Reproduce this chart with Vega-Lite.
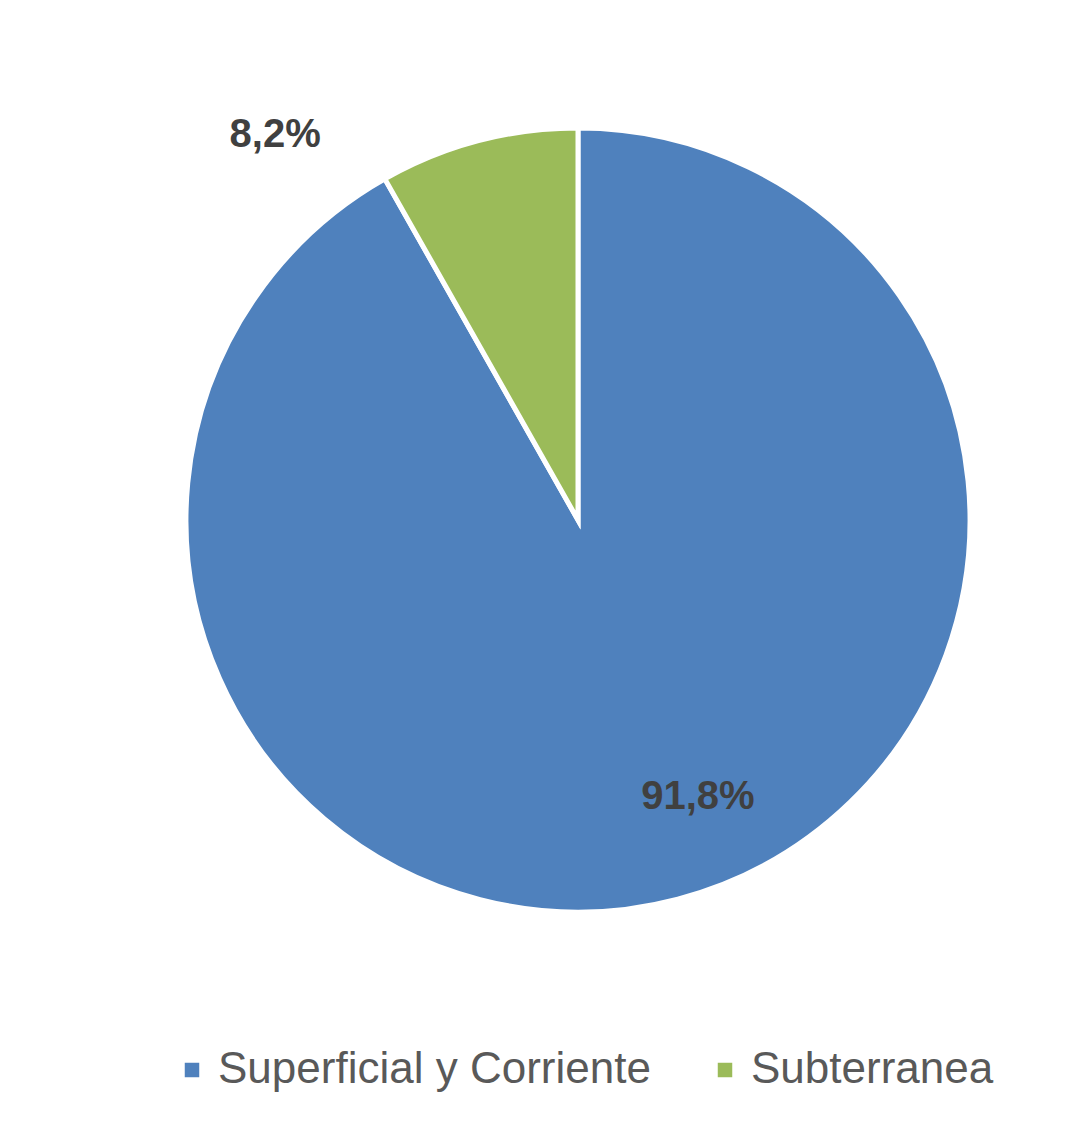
{
  "$schema": "https://vega.github.io/schema/vega-lite/v6.json",
  "autosize": "none",
  "width": 1066,
  "height": 1014,
  "padding": {"left": 45, "top": 13, "right": 0, "bottom": 102},
  "background": "white",
  "config": {"view": {"stroke": null}},
  "data": {
    "values": [
      {"tipo": "Superficial y Corriente", "pct": 91.8, "label": "91,8%", "orden": 1},
      {"tipo": "Subterranea", "pct": 8.2, "label": "8,2%", "orden": 2}
    ]
  },
  "encoding": {
    "theta": {"field": "pct", "type": "quantitative", "stack": true},
    "order": {"field": "orden", "type": "quantitative"}
  },
  "layer": [
    {
      "mark": {"type": "arc", "outerRadius": 392, "stroke": "white", "strokeWidth": 5},
      "encoding": {
        "color": {
          "field": "tipo",
          "type": "nominal",
          "sort": ["Superficial y Corriente", "Subterranea"],
          "scale": {"domain": ["Superficial y Corriente", "Subterranea"], "range": ["#4F81BD", "#9BBB59"]},
          "legend": {
            "title": null,
            "orient": "none",
            "legendX": 125,
            "legendY": 1035,
            "direction": "horizontal",
            "symbolType": "square",
            "symbolSize": 210,
            "symbolStrokeWidth": 0,
            "labelFont": "Liberation Sans",
            "labelFontSize": 44,
            "labelColor": "#595959",
            "labelLimit": 800,
            "columnPadding": 52
          }
        }
      }
    },
    {
      "mark": {"type": "text", "radius": 302, "dx": 43, "dy": -15, "font": "Liberation Sans", "fontSize": 40, "fontWeight": "bold", "fill": "#404040"},
      "encoding": {"text": {"condition": {"test": "datum.orden == 1", "field": "label"}, "value": ""}}
    },
    {
      "mark": {"type": "text", "radius": 490, "dx": -178, "dy": 89, "font": "Liberation Sans", "fontSize": 40, "fontWeight": "bold", "fill": "#404040"},
      "encoding": {"text": {"condition": {"test": "datum.orden == 2", "field": "label"}, "value": ""}}
    }
  ]
}
